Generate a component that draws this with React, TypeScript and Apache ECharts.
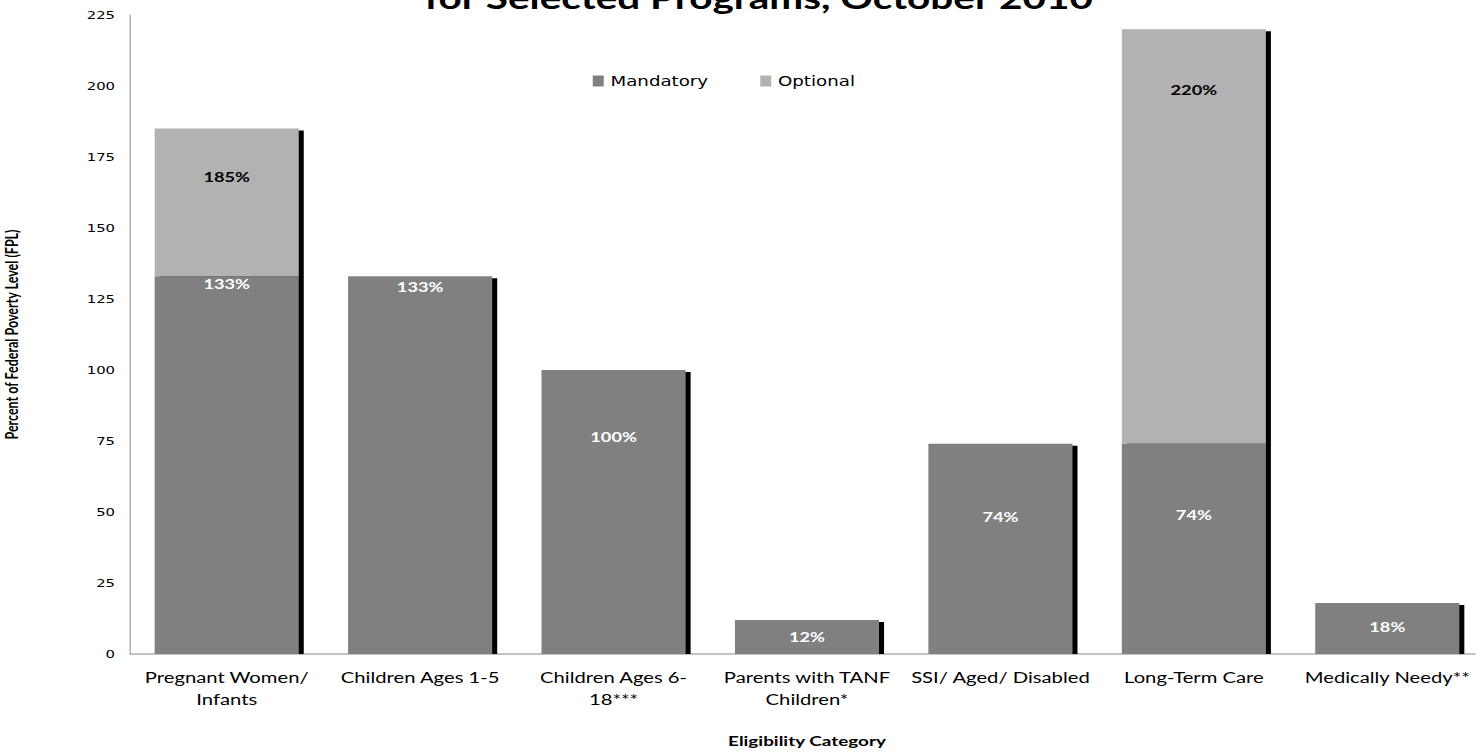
import React, { useEffect, useRef } from "react";
import * as echarts from "echarts";

const categories = [
  "Pregnant Women/\nInfants",
  "Children Ages 1-5",
  "Children Ages 6-\n18***",
  "Parents with TANF\nChildren*",
  "SSI/ Aged/ Disabled",
  "Long-Term Care",
  "Medically Needy**",
];
const mandatory = [133, 133, 100, 12, 74, 74, 18];
const optional = [52, null, null, null, null, 146, null];
const totals = [185, 133, 100, 12, 74, 220, 18];
const yTicks = [0, 25, 50, 75, 100, 125, 150, 175, 200, 225];

// label placement (pixels below segment top) - styling only
const mandatoryLabelDy = [7, 10, 67, 17, 73, 71, 24];
const optionalLabelDy = [48, 0, 0, 0, 0, 60, 0];

// the reference is a horizontally stretched chart; render narrower and stretch
const STRETCH = 1.35;
const PAGE_W = 1476;
const PAGE_H = 752;
const sx = (v: number) => v / STRETCH;

const BAR_FRAC = 0.745;

export default function App() {
  const ref = useRef<HTMLDivElement>(null);
  useEffect(() => {
    if (!ref.current) return;
    const chart = echarts.init(ref.current, null, { renderer: "svg" });
    const option: any = {
      animation: false,
      backgroundColor: "#ffffff",
      title: {
        text: "for Selected Programs, October 2010",
        left: sx(752),
        textAlign: "center",
        top: -22,
        textStyle: {
          fontFamily: "Lato",
          fontWeight: "bold",
          fontSize: 30,
          color: "#000",
        },
      },
      legend: {
        top: 69,
        left: sx(586),
        itemWidth: sx(11),
        itemHeight: 11,
        itemGap: sx(52),
        icon: "rect",
        textStyle: { fontFamily: "DejaVu Sans", fontSize: 13.5, color: "#000" },
        data: ["Mandatory", "Optional"],
      },
      grid: {
        left: sx(130),
        top: 15,
        width: sx(1354),
        height: 639,
        outerBoundsMode: "none",
        containLabel: false,
      },
      xAxis: {
        type: "category",
        data: categories,
        name: "Eligibility Category",
        nameLocation: "middle",
        nameGap: 80,
        nameTextStyle: {
          fontFamily: "Lato",
          fontWeight: "bold",
          fontSize: 14,
          color: "#000",
        },
        axisLine: { lineStyle: { color: "#b0b0b0", width: 1.5 } },
        axisTick: { show: false },
        axisLabel: {
          interval: 0,
          margin: 12,
          fontFamily: "Lato",
          fontSize: 15,
          lineHeight: 22,
          color: "#000",
        },
      },
      yAxis: {
        type: "value",
        min: 0,
        max: 225,
        interval: 25,
        name: "Percent of Federal Poverty Level (FPL)",
        nameLocation: "middle",
        nameGap: sx(110),
        nameTextStyle: {
          fontFamily: "Lato",
          fontWeight: "bold",
          fontSize: 12.5,
          color: "#000",
        },
        splitLine: { show: false },
        axisLine: { show: true, lineStyle: { color: "#b0b0b0", width: 1.1 } },
        axisTick: { show: false },
        axisLabel: {
          margin: sx(15),
          fontFamily: "DejaVu Sans",
          fontSize: 11,
          color: "#000",
          formatter: (v: number) => (yTicks.includes(v) ? String(v) : ""),
        },
      },
      series: [
        {
          type: "custom",
          name: "shadow",
          silent: true,
          z: 1,
          data: totals.map((t, i) => [i, t]),
          encode: { x: 0, y: 1 },
          renderItem: (params: any, api: any) => {
            const idx = api.value(0);
            const top = api.coord([idx, api.value(1)]);
            const base = api.coord([idx, 0]);
            const w = api.size([1, 0])[0] * BAR_FRAC;
            return {
              type: "rect",
              shape: {
                x: top[0] - w / 2 + sx(5),
                y: top[1] + 2,
                width: w,
                height: base[1] - top[1] - 2,
              },
              style: { fill: "#000" },
            };
          },
        },
        {
          type: "bar",
          name: "Mandatory",
          stack: "total",
          z: 2,
          barWidth: BAR_FRAC * 100 + "%",
          itemStyle: { color: "#808080" },
          data: mandatory.map((v, i) => ({
            value: v,
            label: {
              show: true,
              position: ["50%", mandatoryLabelDy[i]],
              align: "center",
              verticalAlign: "middle",
              formatter: `${v}%`,
              fontFamily: "Lato",
              fontWeight: "bold",
              fontSize: 13.5,
              color: "#ffffff",
            },
          })),
        },
        {
          type: "bar",
          name: "Optional",
          stack: "total",
          z: 2,
          barWidth: BAR_FRAC * 100 + "%",
          itemStyle: { color: "#b2b2b2" },
          data: optional.map((v, i) =>
            v == null
              ? "-"
              : {
                  value: v,
                  label: {
                    show: true,
                    position: ["50%", optionalLabelDy[i]],
                    align: "center",
                    verticalAlign: "middle",
                    formatter: `${totals[i]}%`,
                    fontFamily: "Lato",
                    fontWeight: "bold",
                    fontSize: 13.5,
                    color: "#000000",
                  },
                }
          ),
        },
      ],
    };
    chart.setOption(option);
    return () => chart.dispose();
  }, []);
  return (
    <div
      style={{
        position: "fixed",
        left: 0,
        top: 0,
        width: PAGE_W,
        height: PAGE_H,
        overflow: "hidden",
        background: "#fff",
      }}
    >
      <div
        ref={ref}
        style={{
          width: PAGE_W / STRETCH,
          height: PAGE_H,
          transform: `scaleX(${STRETCH})`,
          transformOrigin: "0 0",
        }}
      />
    </div>
  );
}
